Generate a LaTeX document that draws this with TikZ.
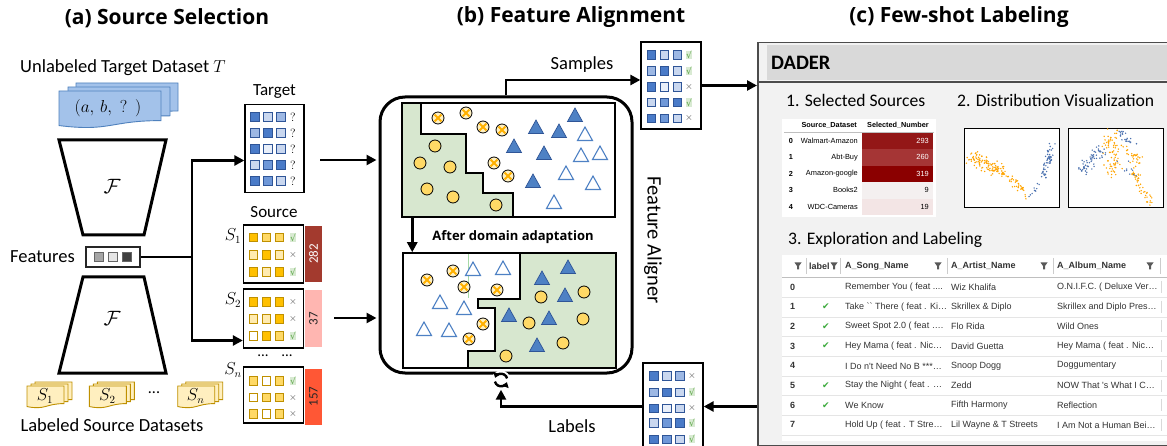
\documentclass[tikz,border=0pt]{standalone}
\usepackage{fontspec}
\setmainfont{Carlito}
\newfontfamily\titlef{Open Sans}
\newfontfamily\tabf{Liberation Sans}
\newfontfamily\symf{DejaVu Sans}
\usetikzlibrary{arrows.meta,calc}
\newcommand\fsz[1]{\fontsize{#1}{#1}\selectfont}
\definecolor{bdark}{HTML}{4A7BC8}
\definecolor{bmidd}{HTML}{6F98D8}
\definecolor{bmid}{HTML}{9DB8E4}
\definecolor{blight}{HTML}{C9D7EF}
\definecolor{bvlight}{HTML}{E9EFF9}
\definecolor{bedge}{HTML}{2F5597}
\definecolor{ydark}{HTML}{FFC000}
\definecolor{ymid}{HTML}{FFD966}
\definecolor{ylight}{HTML}{FFEBB0}
\definecolor{yedge}{HTML}{BF9000}
\definecolor{docblue}{HTML}{A3C2EA}
\definecolor{docbedge}{HTML}{4F81BD}
\definecolor{docyel}{HTML}{FFEFBF}
\definecolor{greenbg}{HTML}{D7E7CF}
\definecolor{ycol}{HTML}{FFD966}
\definecolor{xfill}{HTML}{FFF1C2}
\definecolor{xorange}{HTML}{FFB000}
\definecolor{tblue}{HTML}{4E81C4}
\definecolor{checkbg}{HTML}{D9EAD3}
\definecolor{checkfg}{HTML}{5FA84A}
\definecolor{barA}{HTML}{A33A2E}
\definecolor{barB}{HTML}{FFB6B1}
\definecolor{barC}{HTML}{FF5735}
\definecolor{panelbg}{HTML}{F2F2F2}
\definecolor{headgray}{HTML}{D9D9D9}
\definecolor{cA}{HTML}{931717}
\definecolor{cB}{HTML}{A53535}
\definecolor{cC}{HTML}{8B0000}
\definecolor{cD}{HTML}{F4F0F0}
\definecolor{cE}{HTML}{F3E5E5}
\definecolor{sorange}{HTML}{FFA500}
\definecolor{sblue}{HTML}{4C72B0}
\definecolor{tabtext}{HTML}{333333}
\definecolor{tickgreen}{HTML}{3DAA3D}
\tikzset{
  title/.style={font=\titlef\bfseries\fsz{21}, inner sep=0pt},
  lab/.style={font=\fsz{18.5}, inner sep=0pt},
  smalllab/.style={font=\fsz{17}, inner sep=0pt},
  boxed/.style={draw, line width=1.3pt, fill=white, inner sep=0pt},
  conn/.style={line width=2.8pt},
  arr/.style={line width=2.8pt, -{Triangle[length=10pt,width=10pt]}},
  mk/.style={inner sep=0.4pt, font=\fsz{10}},
  barnode/.style={rotate=90, minimum width=56pt, minimum height=17pt, inner sep=0pt, font=\fsz{13}},
  sec/.style={font=\fsz{17.6}, inner sep=0pt, anchor=west},
  tb/.style={font=\tabf\fsz{7.4}, inner sep=0pt, text=black},
  tbb/.style={font=\tabf\bfseries\fsz{7.3}, inner sep=0pt, text=black},
  td/.style={font=\tabf\fsz{9}, inner sep=0pt, text=tabtext, anchor=west},
  th/.style={font=\tabf\bfseries\fsz{9}, inner sep=0pt, text=tabtext, anchor=west},
}
\newcommand\sq[3]{\filldraw[fill=#3] ({#1-4.3},{#2-4.3}) rectangle ({#1+4.3},{#2+4.3});}
\newcommand\srow[5]{\sq{#1}{#2}{#3}\sq{#1+13}{#2}{#4}\sq{#1+26}{#2}{#5}}
\newcommand\mq[3]{\node[mk, font=\fsz{12}] (#1) at (#2,#3) {$?$};}
\newcommand\mc[3]{\node[mk, fill=checkbg, text=checkfg, font=\symf\fsz{9}] (#1) at (#2,#3) {√};}
\newcommand\mx[3]{\node[mk, text=black!75] (#1) at (#2,#3) {$\times$};}
\newcommand\doc[6]{\filldraw[fill=#5, draw=#6, line width=0.9pt] (#1,#2) -- ({#1+#3},#2) -- ({#1+#3},{#2+0.8*#4}) .. controls ({#1+0.5*#3},{#2+0.8*#4}) and ({#1+0.5*#3},{#2+1.107*#4}) .. (#1,{#2+0.934*#4}) -- cycle;}
\newcommand\ycirc[2]{\filldraw[fill=ycol, draw=black, line width=0.8pt] (#1,#2) circle (6pt);}
\newcommand\xcirc[2]{\filldraw[fill=xfill, draw=black, line width=0.8pt] (#1,#2) circle (6pt);
  \draw[xorange, line width=1.9pt] ({#1-3.4},{#2-3.4}) -- ({#1+3.4},{#2+3.4}) ({#1-3.4},{#2+3.4}) -- ({#1+3.4},{#2-3.4});}
\newcommand\ftri[2]{\filldraw[fill=tblue, draw=bedge, line width=0.7pt] ({#1-7.5},{#2+6.5}) -- ({#1+7.5},{#2+6.5}) -- (#1,{#2-7}) -- cycle;}
\newcommand\htri[2]{\filldraw[fill=white, draw=tblue, line width=1.1pt] ({#1-7.5},{#2+6.5}) -- ({#1+7.5},{#2+6.5}) -- (#1,{#2-7}) -- cycle;}
\newcommand\funnel[2]{\fill[black!65] ({#1-3.5},{#2-3.5}) -- ({#1+3.5},{#2-3.5}) -- ({#1+1},{#2}) -- ({#1+1},{#2+3.5}) -- ({#1-1},{#2+3.5}) -- ({#1-1},{#2}) -- cycle;}
\newcommand\scat[7]{\foreach \k in {1,...,#7}{%
  \pgfmathsetmacro\myst{rnd}%
  \pgfmathsetmacro\mysx{#2+(#4-#2)*\myst+(rand+rand)*#6/2}%
  \pgfmathsetmacro\mysy{#3+(#5-#3)*\myst+(rand+rand)*#6/2}%
  \fill[#1] (\mysx,\mysy) circle (0.8pt);}}
\begin{document}
\begin{tikzpicture}[x=1pt,y=-1pt]
\useasboundingbox (0,0) rectangle (1167,446);
\fill[white] (0,0) rectangle (1167,446);
% ---------------- titles
\node[title] (ta) at (167,18) {(a) Source Selection};
\node[title] (tb) at (571,17) {(b) Feature Alignment};
\node[title] (tc) at (959,17) {(c) Few-shot Labeling};
% ---------------- (a)
\node[lab, anchor=west] (utd) at (20,68) {Unlabeled Target Dataset $T$};
\doc{76}{83}{102}{35}{docblue}{docbedge}
\doc{68}{87}{102}{36}{docblue}{docbedge}
\doc{59}{91}{102}{37}{docblue}{docbedge}
\node[font=\fsz{17.5}, inner sep=0pt] (tdoc) at (108,108) {$(a,\,b,\;?\ \ )$};
\draw[line width=3pt, line join=miter] (59,140) -- (166,140) -- (144,235) -- (83,235) -- cycle;
\node[font=\fsz{20}, inner sep=0pt] (F1) at (112,186) {$\mathcal{F}$};
\draw[line width=3pt, line join=miter] (83,277) -- (144,277) -- (166,373) -- (59,373) -- cycle;
\node[font=\fsz{20}, inner sep=0pt] (F2) at (112,318) {$\mathcal{F}$};
\node[draw=black!85, line width=1.5pt, minimum width=54pt, minimum height=20pt, inner sep=0pt] (feat) at (113,257) {};
\begin{scope}[draw=black!60, line width=0.8pt]
\sq{99}{257}{black!35}\sq{113}{257}{black!10}\sq{127}{257}{black!75}
\end{scope}
\node[lab, anchor=east] (featl) at (75,257) {Features};
% source docs
\foreach \xx/\nm/\sub in {27/d1/1, 89.3/d2/2, 177.7/dn/n}{
  \doc{\xx+8}{382}{37}{22}{docyel}{yedge}
  \doc{\xx+4}{384}{37}{22}{docyel}{yedge}
  \doc{\xx}{386}{37}{22}{docyel}{yedge}
  \node[font=\fsz{16}, inner sep=0pt] (\nm) at (\xx+18,396) {$S_\sub$};
}
\node[font=\fsz{16}, inner sep=0pt] (ddots) at (154,393) {...};
\node[lab] (lsd) at (112,425) {Labeled Source Datasets};
% target box
\node[smalllab] (tgtl) at (274.5,92) {Target};
\node[boxed, minimum width=59pt, minimum height=88pt] (tgt) at (274.5,148.5) {};
\begin{scope}[draw=bedge, line width=0.9pt]
\srow{255}{117}{bdark}{blight}{bmid}
\srow{255}{133}{bmid}{bdark}{blight}
\srow{255}{149}{bdark}{bvlight}{blight}
\srow{255}{165}{blight}{bmidd}{bdark}
\srow{255}{181}{bdark}{bmidd}{blight}
\end{scope}
\mq{tq1}{293}{117}\mq{tq2}{293}{133}\mq{tq3}{293}{149}\mq{tq4}{293}{165}\mq{tq5}{293}{181}
% source boxes
\node[smalllab] (srcl) at (274,212) {Source};
\node[boxed, minimum width=60pt, minimum height=58pt] (s1) at (273.5,254) {};
\node[boxed, minimum width=60pt, minimum height=59pt] (s2) at (273.5,318.5) {};
\node[boxed, minimum width=60pt, minimum height=56pt] (sn) at (273.5,395) {};
\begin{scope}[draw=yedge, line width=0.9pt]
\srow{253.5}{237.5}{ydark}{ymid}{ymid}
\srow{253.5}{255}{ylight}{ydark}{ylight}
\srow{253.5}{272}{ydark}{ylight}{ydark}
\srow{253.5}{302}{ydark}{ydark}{ydark}
\srow{253.5}{319}{ylight}{ylight}{ydark}
\srow{253.5}{336}{white}{ydark}{ymid}
\srow{253.5}{381}{ymid}{white}{ymid}
\srow{253.5}{397.5}{white}{ymid}{ymid}
\srow{253.5}{414}{ymid}{white}{ymid}
\end{scope}
\mc{a1}{293}{237.5}\mx{a2}{293}{255}\mc{a3}{293}{272}
\mx{b1}{293}{302}\mx{b2}{293}{319}\mc{b3}{293}{336}
\mc{c1}{293}{381}\mx{c2}{293}{397.5}\mx{c3}{293}{414}
\node[barnode, fill=barA, text=white] (bar1) at (313.5,254) {282};
\node[barnode, fill=barB, text=black!85] (bar2) at (313.5,318.5) {37};
\node[barnode, fill=barC, text=black!85] (bar3) at (313.5,396.5) {157};
\node[font=\fsz{16}, inner sep=0pt] (s1l) at (233,236) {$S_1$};
\node[font=\fsz{16}, inner sep=0pt] (s2l) at (233,300) {$S_2$};
\node[font=\fsz{16}, inner sep=0pt] (snl) at (233,370) {$S_n$};
\node[font=\fsz{15}, inner sep=0pt] (dt1) at (263,356) {...};
\node[font=\fsz{15}, inner sep=0pt] (dt2) at (287,356) {...};
% connectors (a)
\coordinate (jn) at (192,257);
\draw[conn] (feat.east) -- (jn);
\draw[arr] (jn) |- ([yshift=-12pt]tgt.west);
\draw[arr] (jn) |- ([yshift=-22pt]s2.west);
% ---------------- (b)
\node[draw, line width=3pt, rounded corners=25pt, minimum width=252pt, minimum height=276pt, inner sep=0pt] (al) at (506,235) {};
\filldraw[fill=greenbg, draw=black, line width=1.3pt] (402,103) -- (421,103) -- (421,134) -- (466,134) -- (466,173) -- (483,173) -- (483,193) -- (513,193) -- (513,217) -- (402,217) -- cycle;
\node[draw, line width=1.5pt, minimum width=213pt, minimum height=114pt, inner sep=0pt] (up) at (508.5,160) {};
\filldraw[fill=greenbg, draw=black, line width=1.3pt] (520,253) -- (616,253) -- (616,368) -- (468,368) -- (468,351) -- (495,351) -- (495,308) -- (478,308) -- (478,299) -- (520,299) -- cycle;
\draw[green!40!gray!50, line width=0.6pt] (468,254) -- (468,298);
\node[draw, line width=1.5pt, minimum width=213pt, minimum height=115pt, inner sep=0pt] (low) at (509.5,310.5) {};
% upper shapes
\xcirc{438}{118}\xcirc{466}{113}\xcirc{483}{127}\xcirc{502}{130}\xcirc{494}{163}\xcirc{508}{176}
\ycirc{435}{146}\ycirc{420}{163}\ycirc{450}{167}\ycirc{427}{189}\ycirc{453}{197}\ycirc{496}{205}
\ftri{575}{115}\ftri{536}{127}\ftri{559}{131}\ftri{514}{146}\ftri{544}{153}\ftri{533}{181}
\htri{585}{134}\htri{581}{155}\htri{600}{153}\htri{566}{173}\htri{593}{183}\htri{554}{202}
% lower shapes
\xcirc{427}{280}\xcirc{453}{271}\xcirc{464}{287}\xcirc{497}{290}\xcirc{483}{324}\xcirc{469}{339}
\htri{473}{269}\htri{503}{268}\htri{440}{302}\htri{464}{308}\htri{424}{329}\htri{449}{330}
\ftri{568}{267}\ftri{542}{278}\ftri{565}{295}\ftri{509}{315}\ftri{549}{318}\ftri{537}{345}
\ycirc{541}{297}\ycirc{584}{292}\ycirc{529}{323}\ycirc{583}{319}\ycirc{563}{343}\ycirc{506}{356}
\node[font=\titlef\bfseries\fsz{13}, inner sep=0pt] (ada) at (513,237) {After domain adaptation};
\draw[arr] ([xshift=11pt]up.south west) -- ([xshift=10pt]low.north west);
\node[font=\fsz{20.5}, inner sep=0pt, rotate=-90] (fal) at (653,240) {Feature Aligner};
% samples box
\node[boxed, minimum width=60pt, minimum height=87pt] (smp) at (671,85.5) {};
\begin{scope}[draw=bedge, line width=0.9pt]
\srow{651.5}{55}{bdark}{blight}{bmid}
\srow{651.5}{71}{bmid}{bdark}{blight}
\srow{651.5}{87}{bdark}{bvlight}{blight}
\srow{651.5}{102.5}{blight}{bmidd}{bdark}
\srow{651.5}{118.3}{bdark}{bmidd}{blight}
\end{scope}
\mc{p1}{689}{55}\mc{p2}{689}{71}\mx{p3}{689}{87}\mc{p4}{689}{102.5}\mx{p5}{689}{118.3}
\node[lab] (smpl) at (582,65) {Samples};
\draw[arr] (al.north) |- ([yshift=5.5pt]smp.west);
% labels box
\node[boxed, minimum width=60pt, minimum height=87pt] (lbl) at (673,406.5) {};
\begin{scope}[draw=bedge, line width=0.9pt]
\srow{654}{375.7}{bdark}{blight}{bmid}
\srow{654}{392.3}{bmid}{bdark}{blight}
\srow{654}{408.3}{bdark}{bvlight}{blight}
\srow{654}{422.7}{blight}{bmidd}{bdark}
\srow{654}{439.3}{bdark}{bmidd}{blight}
\end{scope}
\mx{l1}{692}{375.7}\mc{l2}{692}{392.3}\mx{l3}{692}{408.3}\mc{l4}{692}{422.7}\mc{l5}{692}{439.3}
\node[lab] (lbll) at (572,426) {Labels};
% refresh icon
\node[fill=white, circle, inner sep=0pt, minimum size=19pt] (ic) at (501,380) {};
\draw[line width=2.4pt, -{Triangle[length=5pt,width=7pt]}] (ic.center) ++(15:6.3pt) arc (15:160:6.3pt);
\draw[line width=2.4pt, -{Triangle[length=5pt,width=7pt]}] (ic.center) ++(195:6.3pt) arc (195:340:6.3pt);
\draw[arr] (lbl.west) -| (ic.south);
% inputs to aligner
\coordinate (in1) at (320,160);
\coordinate (in2) at (334,318);
\draw[arr, shorten >=2pt] (in1) -- (in1 -| al.west);
\draw[arr, shorten >=2pt] (in2) -- (in2 -| al.west);
% ---------------- (c) panel
\node[draw=black!70, line width=1.5pt, fill=panelbg, minimum width=440pt, minimum height=403pt, anchor=north west, inner sep=0pt] (panel) at (757,42) {};
\fill[headgray] (767,45) rectangle (1200,80);
\draw[black!70, line width=1.5pt] (757,82) -- (1200,82);
\node[font=\bfseries\fsz{20.5}, anchor=west, inner sep=0pt] (dader) at (771,63) {DADER};
\node[sec] (sec1) at (786,100) {1. Selected Sources};
\node[sec] (sec2) at (957,100) {2. Distribution Visualization};
\node[sec] (sec3) at (788,240) {3. Exploration and Labeling};
\draw[arr] (smp.east) -- (smp.east -| panel.west);
\draw[arr] (lbl.east -| panel.west) -- (lbl.east);
% table 1
\node[fill=white, anchor=north west, minimum width=154pt, minimum height=98pt, inner sep=0pt] (t1) at (782,119) {};
\node[tbb, anchor=east] (h1) at (857,125.5) {Source\_Dataset};
\node[tbb, anchor=east] (h2) at (929,125.5) {Selected\_Number};
\draw[black!25, line width=0.8pt] (784,132.5) -- (934,132.5);
\foreach \ix/\nm/\val/\cf/\tcol [count=\r from 0] in {0/Walmart-Amazon/293/cA/white, 1/Abt-Buy/260/cB/white, 2/Amazon-google/319/cC/white, 3/Books2/9/cD/black, 4/WDC-Cameras/19/cE/black}{
  \fill[\cf] (862,{132.8+\r*16.45}) rectangle (933,{149.2+\r*16.45});
  \node[tbb] (ti\ix) at (791,{141+\r*16.45}) {\ix};
  \node[tb, anchor=east] (tn\ix) at (858,{141+\r*16.45}) {\nm};
  \node[tb, anchor=east, text=\tcol] (tv\ix) at (929,{141+\r*16.45}) {\val};
}
% scatter plots
\node[draw, line width=0.9pt, fill=white, minimum width=95pt, minimum height=79pt, inner sep=0pt, anchor=north west] (pl1) at (964,128) {};
\node[draw, line width=0.9pt, fill=white, minimum width=95pt, minimum height=79pt, inner sep=0pt, anchor=north west] (pl2) at (1068,128) {};
\pgfmathsetseed{11}
\begin{scope}
\clip (965,129) rectangle (1058,206);
\scat{sorange}{970}{157}{1000}{170}{9}{95}
\scat{sorange}{995}{168}{1022}{186}{6}{50}
\scat{sorange}{1020}{184}{1027}{200}{3}{12}
\scat{sblue}{1053}{144}{1043}{178}{5}{55}
\scat{sblue}{1040}{180}{1029}{200}{2.5}{10}
\end{scope}
\begin{scope}
\clip (1069,129) rectangle (1162,206);
\scat{sorange}{1112}{134}{1112}{172}{11}{80}
\scat{sorange}{1126}{145}{1138}{162}{7}{30}
\scat{sorange}{1132}{170}{1150}{203}{5}{45}
\scat{sblue}{1080}{170}{1103}{150}{8}{60}
\scat{sblue}{1117}{130}{1133}{142}{5}{22}
\scat{sblue}{1118}{160}{1135}{176}{6}{10}
\end{scope}
% table 2
\node[fill=white, anchor=north west, minimum width=420pt, minimum height=186pt, inner sep=0pt] (t2) at (782,255) {};
\draw[black!25, line width=0.8pt] (782,277) -- (1200,277);
\foreach \xx in {806,840,947,1053,1160}{\draw[black!20, line width=0.8pt] (\xx,258) -- (\xx,274);}
\foreach \yy in {297,317,336.5,356,376,395.5,415,435}{\draw[black!10, line width=0.7pt] (782,\yy) -- (1200,\yy);}
\funnel{798}{266}
\node[th] (hl) at (809,266) {label};
\funnel{834}{266}
\node[th] (hs) at (845,266) {A\_Song\_Name};
\funnel{938}{266}
\node[th] (ha) at (951,266) {A\_Artist\_Name};
\funnel{1044}{266}
\node[th] (hb) at (1057,266) {A\_Album\_Name};
\funnel{1150}{266}
\foreach \ix/\ck/\ca/\cb/\cc [count=\r from 0] in {
 0/0/{Remember You ( feat ....}/{Wiz Khalifa}/{O.N.I.F.C. ( Deluxe Ver…},
 1/1/{Take \textasciigrave\textasciigrave{} There ( feat . Ki…}/{Skrillex \& Diplo}/{Skrillex and Diplo Pres…},
 2/1/{Sweet Spot 2.0 ( feat ….}/{Flo Rida}/{Wild Ones},
 3/1/{Hey Mama ( feat . Nic…}/{David Guetta}/{Hey Mama ( feat . Nic…},
 4/0/{I Do n't Need No B ***…}/{Snoop Dogg}/{Doggumentary},
 5/1/{Stay the Night ( feat . …}/{Zedd}/{NOW That 's What I C…},
 6/1/{We Know}/{Fifth Harmony}/{Reflection},
 7/0/{Hold Up ( feat . T Stre…}/{Lil Wayne \& T Streets}/{I Am Not a Human Bei…}}{
  \node[th] (ri\ix) at (790,{287+\r*19.7}) {\ix};
  \ifnum\ck=1 \node[font=\symf\fsz{9}, text=tickgreen, inner sep=0pt] (rk\ix) at (826,{287+\r*19.7}) {✔};\fi
  \node[td] (ra\ix) at (845,{287+\r*19.7}) {\ca};
  \node[td] (rb\ix) at (951,{287+\r*19.7}) {\cb};
  \node[td] (rc\ix) at (1057,{287+\r*19.7}) {\cc};
  \draw[black!15, line width=0.7pt] (1161,{281+\r*19.7}) -- (1161,{293+\r*19.7});
}
\end{tikzpicture}
\end{document}
